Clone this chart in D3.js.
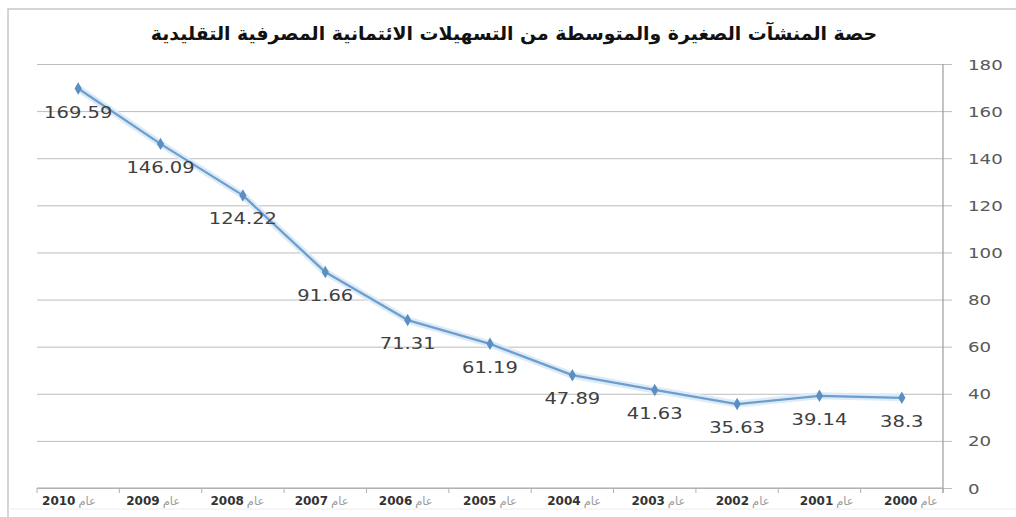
<!DOCTYPE html>
<html>
<head>
<meta charset="utf-8">
<script src="https://cdn.jsdelivr.net/npm/d3@7"></script>
<style>
  body { margin: 0; background: #fff; }
  svg { display: block; }
</style>
</head>
<body>
<script>
const title = 'حصة المنشآت الصغيرة والمتوسطة من التسهيلات الائتمانية المصرفية التقليدية';
const years = ['2010', '2009', '2008', '2007', '2006', '2005', '2004', '2003', '2002', '2001', '2000'];
const values = [169.59, 146.09, 124.22, 91.66, 71.31, 61.19, 47.89, 41.63, 35.63, 39.14, 38.3];
const yTicks = [0, 20, 40, 60, 80, 100, 120, 140, 160, 180];
const yearWord = 'عام';

const width = 1016, height = 517;
const plotLeft = 37, plotRight = 943, plotTop = 64, plotBottom = 488;

const svg = d3.select('body')
  .append('svg')
  .attr('width', width)
  .attr('height', height);

// outer frame of the pasted chart
svg.append('path')
  .attr('d', 'M8,' + height + 'V9H' + width)
  .attr('fill', 'none')
  .attr('stroke', '#c8c8c8')
  .attr('stroke-width', 1.5);
svg.append('line')
  .attr('x1', 8).attr('x2', width)
  .attr('y1', 509).attr('y2', 509)
  .attr('stroke', '#ececec');

const xScale = d3.scaleBand()
  .domain(years)
  .range([plotLeft, plotRight]);

// the category labels sit on a slightly wider pitch than the bands
const labelScale = d3.scalePoint()
  .domain(years)
  .range([69, 911]);

const yScale = d3.scaleLinear()
  .domain([0, 180])
  .range([plotBottom, plotTop]);

// gridlines + right axis
const yAxis = d3.axisRight(yScale)
  .tickValues(yTicks)
  .tickSize(-(plotRight - plotLeft))
  .tickFormat(d3.format('d'));

const yG = svg.append('g')
  .attr('transform', 'translate(' + plotRight + ',0)')
  .call(yAxis);
yG.select('.domain').remove();
yG.selectAll('.tick line')
  .attr('x2', 9)
  .attr('x1', -(plotRight - plotLeft))
  .attr('stroke', '#bdbdbd');
yG.selectAll('.tick text')
  .attr('x', 0)
  .attr('dy', '0.36em')
  .attr('fill', '#595959')
  .attr('font-family', 'DejaVu Sans')
  .attr('font-size', 14)
  .attr('text-anchor', 'start')
  .attr('transform', 'translate(25,0) scale(1.3,1)');
svg.append('line')
  .attr('x1', plotRight).attr('x2', plotRight)
  .attr('y1', plotTop).attr('y2', plotBottom + 5)
  .attr('stroke', '#9c9c9c')
  .attr('stroke-width', 1.2);

// bottom axis with ticks between categories
svg.append('line')
  .attr('x1', plotLeft).attr('x2', plotRight)
  .attr('y1', plotBottom).attr('y2', plotBottom)
  .attr('stroke', '#a8a8a8')
  .attr('stroke-width', 1.2);
svg.selectAll('.xtick')
  .data(years.concat(['end']))
  .enter()
  .append('line')
  .attr('class', 'xtick')
  .attr('x1', (d, i) => plotLeft + i * xScale.bandwidth())
  .attr('x2', (d, i) => plotLeft + i * xScale.bandwidth())
  .attr('y1', plotBottom)
  .attr('y2', plotBottom + 5)
  .attr('stroke', '#b0b0b0');

const xLabels = svg.selectAll('.xlabel')
  .data(years)
  .enter()
  .append('text')
  .attr('class', 'xlabel')
  .attr('x', (d) => labelScale(d))
  .attr('y', 505)
  .attr('text-anchor', 'middle')
  .attr('font-family', 'DejaVu Sans');
xLabels.append('tspan')
  .attr('fill', '#333')
  .attr('font-weight', 'bold')
  .attr('font-size', 12)
  .text((d) => d);
xLabels.append('tspan')
  .attr('fill', '#9a9a9a')
  .attr('font-size', 11.5)
  .attr('dx', 3)
  .text(yearWord);

// the series
const points = years.map((y, i) => [xScale(y) + xScale.bandwidth() / 2, yScale(values[i])]);
const line = d3.line();

svg.append('path')
  .attr('d', line(points))
  .attr('fill', 'none')
  .attr('stroke', '#dcebf7')
  .attr('stroke-width', 7)
  .attr('stroke-linejoin', 'round');
svg.append('path')
  .attr('d', line(points))
  .attr('fill', 'none')
  .attr('stroke', '#6d9ecd')
  .attr('stroke-width', 2.3)
  .attr('stroke-linejoin', 'round');

svg.selectAll('.marker')
  .data(points)
  .enter()
  .append('path')
  .attr('class', 'marker')
  .attr('d', d3.symbol().type(d3.symbolDiamond).size(45))
  .attr('transform', (d) => 'translate(' + d[0] + ',' + d[1] + ')')
  .attr('fill', '#5b8fc3');

svg.selectAll('.dlabel')
  .data(values)
  .enter()
  .append('text')
  .attr('class', 'dlabel')
  .attr('text-anchor', 'middle')
  .attr('font-family', 'DejaVu Sans')
  .attr('font-size', 16)
  .attr('fill', '#404040')
  .attr('transform', (d, i) => 'translate(' + points[i][0] + ',' + (points[i][1] + 29) + ') scale(1.22,1)')
  .text((d) => d);

// title, fitted to the width it has in the picture
const titleText = svg.append('text')
  .attr('x', 514)
  .attr('y', 40)
  .attr('text-anchor', 'middle')
  .attr('direction', 'rtl')
  .attr('font-family', 'DejaVu Sans')
  .attr('font-weight', 'bold')
  .attr('font-size', 16)
  .attr('fill', '#111')
  .text(title);
const tw = titleText.node().getComputedTextLength();
titleText.attr('font-size', Math.min(22, 16 * 727 / tw));
</script>
</body>
</html>
